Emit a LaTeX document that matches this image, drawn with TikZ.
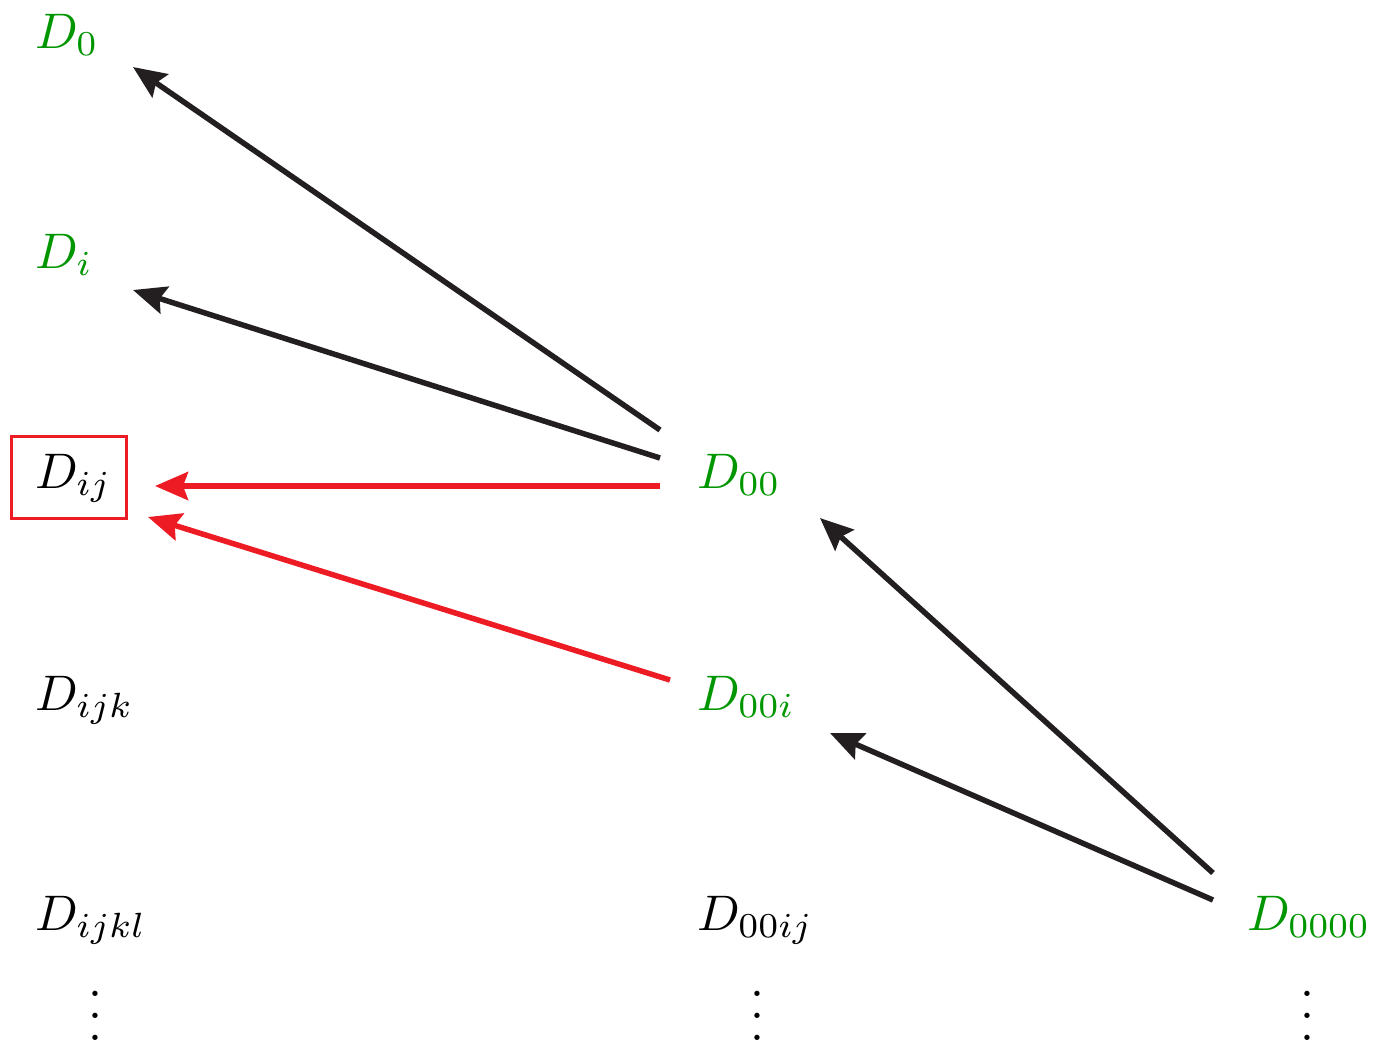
\documentclass[tikz,border=0pt]{standalone}
\usetikzlibrary{arrows.meta}
\definecolor{dgreen}{RGB}{0,150,0}
\definecolor{ared}{RGB}{237,28,36}
\definecolor{ablack}{RGB}{35,31,32}
\newcommand\myvdots{\vbox{\baselineskip4.4pt\lineskiplimit0pt\hbox{.}\hbox{.}\hbox{.}}}
\begin{document}
\begin{tikzpicture}[x=0.2pt,y=-0.2pt,
  lab/.style={anchor=base west,inner sep=0pt,outer sep=0pt},
  gr/.style={lab,text=dgreen},
  dts/.style={anchor=base,inner sep=0pt},
  arr/.style={line width=1.1pt,-{Stealth[length=6.6pt,width=5.6pt,inset=1pt]}},
  blk/.style={arr,draw=ablack},
  rd/.style={arr,draw=ared}]
\useasboundingbox (0,0) rectangle (1374,1042);
% labels
\node[gr] (D0) at (35,48) {$D_0$};
\node[gr] (Di) at (35,268) {$D_i$};
\node[lab] (Dij) at (35,488) {$D_{ij}$};
\node[lab] (Dijk) at (35,710) {$D_{ijk}$};
\node[lab] (Dijkl) at (35,930) {$D_{ijkl}$};
\node[gr] (D00) at (697,488) {$D_{00}$};
\node[gr] (D00i) at (697,710) {$D_{00i}$};
\node[lab] (D00ij) at (697,930) {$D_{00ij}$};
\node[gr] (D0000) at (1247,930) {$D_{0000}$};
\node[dts] (v1) at (95,1040) {\myvdots};
\node[dts] (v2) at (757,1040) {\myvdots};
\node[dts] (v3) at (1307,1040) {\myvdots};
% box
\node[draw=ared,line width=0.6pt,minimum width=22.8pt,minimum height=16.4pt,inner sep=0pt] (box) at (69,477) {};
% connector end points
\coordinate (a1s) at (660,430); \coordinate (a1e) at (133,67);
\coordinate (a2s) at (660,458); \coordinate (a2e) at (133,290);
\coordinate (a3s) at (660,486); \coordinate (a3e) at (155,486);
\coordinate (a4s) at (670,680); \coordinate (a4e) at (148,517);
\coordinate (a5s) at (1213,873); \coordinate (a5e) at (820,518);
\coordinate (a6s) at (1213,900); \coordinate (a6e) at (830,733);
\draw[blk] (a1s) -- (a1e);
\draw[blk] (a2s) -- (a2e);
\draw[rd] (a3s) -- (a3e);
\draw[rd] (a4s) -- (a4e);
\draw[blk] (a5s) -- (a5e);
\draw[blk] (a6s) -- (a6e);
\end{tikzpicture}
\end{document}
